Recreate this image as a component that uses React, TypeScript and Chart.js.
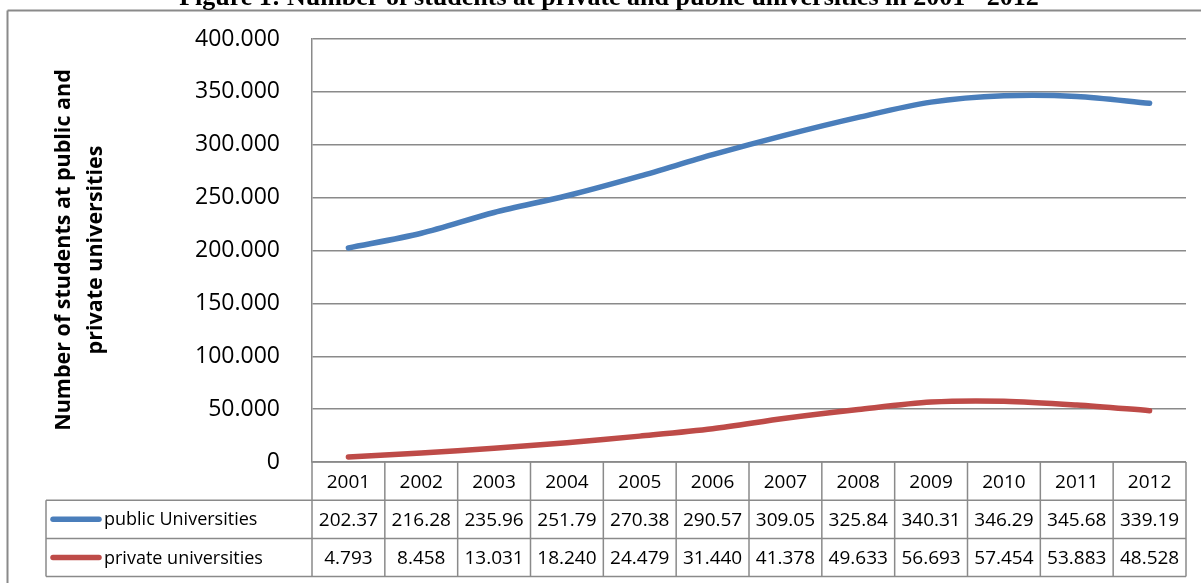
import React, { useEffect, useRef } from "react";
import { Chart, registerables } from "chart.js";

Chart.register(...registerables);

const years = ["2001", "2002", "2003", "2004", "2005", "2006", "2007", "2008", "2009", "2010", "2011", "2012"];
const publicValues = [202.37, 216.28, 235.96, 251.79, 270.38, 290.57, 309.05, 325.84, 340.31, 346.29, 345.68, 339.19];
const privateValues = [4.793, 8.458, 13.031, 18.24, 24.479, 31.44, 41.378, 49.633, 56.693, 57.454, 53.883, 48.528];
const publicLabels = publicValues.map((v) => v.toFixed(2));
const privateLabels = privateValues.map((v) => v.toFixed(3));
const seriesNames = ["public Universities", "private universities"];
const yTitleLines = ["Number of students at public and", "private universities"];
const pageTitle = "Figure 1: Number of students at private and public universities in 2001 - 2012";

const BLUE = "#4A7EBB";
const RED = "#BE4B48";
const GRID = "#8A8A8A";
const FONT = '"Open Sans", sans-serif';

const decorPlugin = {
  id: "decor",
  afterDraw(chart: any) {
    const ctx = chart.ctx as CanvasRenderingContext2D;
    const area = chart.chartArea;
    const n = years.length;
    const colW = (area.right - area.left) / n;
    const top = area.bottom;
    const rowH = 38.2;
    const r1 = top + rowH;
    const r2 = r1 + rowH;
    const r3 = r2 + rowH;
    const legendLeft = 46;

    ctx.save();
    const line = (x1: number, y1: number, x2: number, y2: number) => {
      ctx.beginPath();
      ctx.moveTo(x1, y1);
      ctx.lineTo(x2, y2);
      ctx.stroke();
    };

    // outer frame
    ctx.strokeStyle = "#8A8A8A";
    ctx.lineWidth = 2;
    line(7.5, 583, 7.5, 10.5);
    line(7.5, 10.5, 1201, 10.5);

    // page title (clipped at top)
    ctx.fillStyle = "#000";
    ctx.font = 'bold 26px "Liberation Serif", serif';
    ctx.textAlign = "center";
    ctx.textBaseline = "alphabetic";
    ctx.fillText(pageTitle, 609, 5);

    // table grid
    ctx.strokeStyle = GRID;
    ctx.lineWidth = 1.5;
    line(area.left, top, area.right, top);
    line(legendLeft, r1, area.right, r1);
    line(legendLeft, r2, area.right, r2);
    line(legendLeft, r3, area.right, r3);
    for (let i = 0; i <= n; i++) {
      const x = area.left + i * colW;
      line(x, top, x, r3);
    }
    line(legendLeft, r1, legendLeft, r3);

    // table text
    ctx.fillStyle = "#000";
    ctx.font = `19px ${FONT}`;
    ctx.textAlign = "center";
    ctx.textBaseline = "middle";
    for (let i = 0; i < n; i++) {
      const cx = chart.scales.x.getPixelForValue(i);
      ctx.fillText(years[i], cx, (top + r1) / 2 + 1);
      ctx.fillText(publicLabels[i], cx, (r1 + r2) / 2 + 1);
      ctx.fillText(privateLabels[i], cx, (r2 + r3) / 2 + 1);
    }

    // legend keys
    const rows = [
      { y: (r1 + r2) / 2, color: BLUE, name: seriesNames[0] },
      { y: (r2 + r3) / 2, color: RED, name: seriesNames[1] },
    ];
    for (const r of rows) {
      ctx.strokeStyle = r.color;
      ctx.lineWidth = 5.5;
      ctx.lineCap = "round";
      line(53, r.y, 99, r.y);
      ctx.textAlign = "left";
      ctx.font = `18px ${FONT}`;
      ctx.fillText(r.name, 104, r.y + 1);
    }

    // y axis title
    ctx.font = `bold 21.5px ${FONT}`;
    ctx.textAlign = "center";
    ctx.textBaseline = "middle";
    const cy = 250;
    ctx.save();
    ctx.translate(64, cy);
    ctx.rotate(-Math.PI / 2);
    ctx.fillText(yTitleLines[0], 0, 0);
    ctx.fillText(yTitleLines[1], 0, 32);
    ctx.restore();

    ctx.restore();
  },
};

export default function App() {
  const canvasRef = useRef<HTMLCanvasElement | null>(null);

  useEffect(() => {
    document.body.style.margin = "0";
    const canvas = canvasRef.current;
    if (!canvas) return;
    const chart = new Chart(canvas, {
      type: "line",
      data: {
        labels: years,
        datasets: [
          {
            label: seriesNames[0],
            data: publicValues,
            borderColor: BLUE,
            backgroundColor: BLUE,
            borderWidth: 5.5,
            pointRadius: 0,
            tension: 0.3,
            borderCapStyle: "round",
            borderJoinStyle: "round",
          },
          {
            label: seriesNames[1],
            data: privateValues,
            borderColor: RED,
            backgroundColor: RED,
            borderWidth: 5.5,
            pointRadius: 0,
            tension: 0.3,
            borderCapStyle: "round",
            borderJoinStyle: "round",
          },
        ],
      },
      options: {
        animation: false,
        responsive: false,
        maintainAspectRatio: false,
        devicePixelRatio: 1,
        layout: { padding: { top: 39, right: 15, bottom: 121, left: 0 } },
        plugins: {
          legend: { display: false },
          tooltip: { enabled: false },
          title: { display: false },
        },
        scales: {
          x: {
            display: false,
            offset: true,
          },
          y: {
            min: 0,
            max: 400,
            afterFit: (scale: any) => {
              scale.width = 312;
            },
            ticks: {
              stepSize: 50,
              padding: 0,
              color: "#000",
              font: { family: FONT, size: 23 },
              callback: (v: any) => (Number(v) === 0 ? "0" : Number(v).toFixed(3)),
            },
            grid: {
              color: GRID,
              lineWidth: 1.5,
              drawTicks: true,
              tickLength: 32,
              tickColor: "rgba(0,0,0,0)",
            },
            border: { display: true, color: GRID, width: 1.5 },
          },
        },
      },
      plugins: [decorPlugin],
    });
    return () => chart.destroy();
  }, []);

  return (
    <div style={{ width: 1201, height: 583, position: "relative", background: "#fff" }}>
      <canvas ref={canvasRef} width={1201} height={583} style={{ display: "block", width: 1201, height: 583 }} />
    </div>
  );
}
